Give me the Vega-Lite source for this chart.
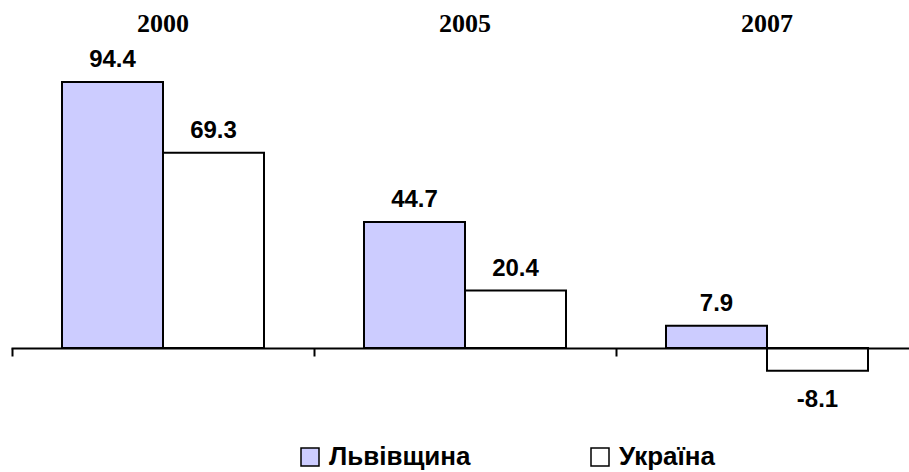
{
  "$schema": "https://vega.github.io/schema/vega-lite/v6.json",
  "width": 906,
  "height": 338,
  "autosize": {"type": "none"},
  "padding": {"left": 12, "top": 10, "right": 0, "bottom": 124},
  "background": "white",
  "data": {"values": [
    {"year": "2000", "series": "Львівщина", "value": 94.4},
    {"year": "2000", "series": "Україна", "value": 69.3},
    {"year": "2005", "series": "Львівщина", "value": 44.7},
    {"year": "2005", "series": "Україна", "value": 20.4},
    {"year": "2007", "series": "Львівщина", "value": 7.9},
    {"year": "2007", "series": "Україна", "value": -8.1}
  ]},
  "config": {"view": {"stroke": null}, "font": "Liberation Sans"},
  "transform": [{"calculate": "replace(format(datum.value, '.1f'), '\u2212', '-')", "as": "label"}],
  "encoding": {
    "x": {"field": "year", "type": "nominal", "sort": ["2000", "2005", "2007"],
      "scale": {"paddingInner": 0, "paddingOuter": 0},
      "axis": {"orient": "bottom", "labels": false, "title": null, "domainColor": "black", "domainWidth": 2,
        "tickColor": "black", "tickWidth": 2, "tickSize": 8, "tickBand": "extent", "zindex": 2, "domainCap": "square"}}
  },
  "layer": [
    {
      "mark": {"type": "bar", "stroke": "black", "strokeWidth": 2},
      "encoding": {
        "xOffset": {"field": "series", "type": "nominal", "sort": ["Львівщина", "Україна"],
          "scale": {"paddingInner": 0, "paddingOuter": 0.495}},
        "y": {"field": "value", "type": "quantitative", "scale": {"domain": [0, 120], "zero": true, "nice": false}, "axis": null},
        "fill": {"field": "series", "type": "nominal", "sort": ["Львівщина", "Україна"],
          "scale": {"domain": ["Львівщина", "Україна"], "range": ["#ccccff", "#ffffff"]},
          "legend": {"title": null, "orient": "none", "direction": "horizontal", "legendX": 285, "legendY": 434,
            "symbolType": "square", "symbolSize": 324, "symbolStrokeColor": "black", "symbolStrokeWidth": 1.5,
            "labelFont": "Liberation Sans", "labelFontSize": 26, "labelFontWeight": "bold", "labelColor": "black",
            "labelOffset": 6, "columnPadding": 116, "labelLimit": 300}}
      }
    },
    {
      "transform": [{"filter": "datum.value >= 0"}],
      "mark": {"type": "text", "baseline": "alphabetic", "dy": -15, "fontSize": 24, "fontWeight": "bold", "font": "Liberation Sans", "color": "black"},
      "encoding": {
        "xOffset": {"field": "series", "type": "nominal", "sort": ["Львівщина", "Україна"]},
        "y": {"field": "value", "type": "quantitative"},
        "text": {"field": "label", "type": "nominal"}
      }
    },
    {
      "transform": [{"filter": "datum.value < 0"}],
      "mark": {"type": "text", "baseline": "alphabetic", "dy": 36, "fontSize": 24, "fontWeight": "bold", "font": "Liberation Sans", "color": "black"},
      "encoding": {
        "xOffset": {"field": "series", "type": "nominal", "sort": ["Львівщина", "Україна"]},
        "y": {"field": "value", "type": "quantitative"},
        "text": {"field": "label", "type": "nominal"}
      }
    },
    {
      "transform": [{"filter": "datum.series == 'Львівщина'"}],
      "mark": {"type": "text", "baseline": "middle", "fontSize": 26, "fontWeight": "bold", "font": "Liberation Serif", "color": "black"},
      "encoding": {
        "y": {"datum": 115},
        "text": {"field": "year", "type": "nominal"}
      }
    }
  ]
}
